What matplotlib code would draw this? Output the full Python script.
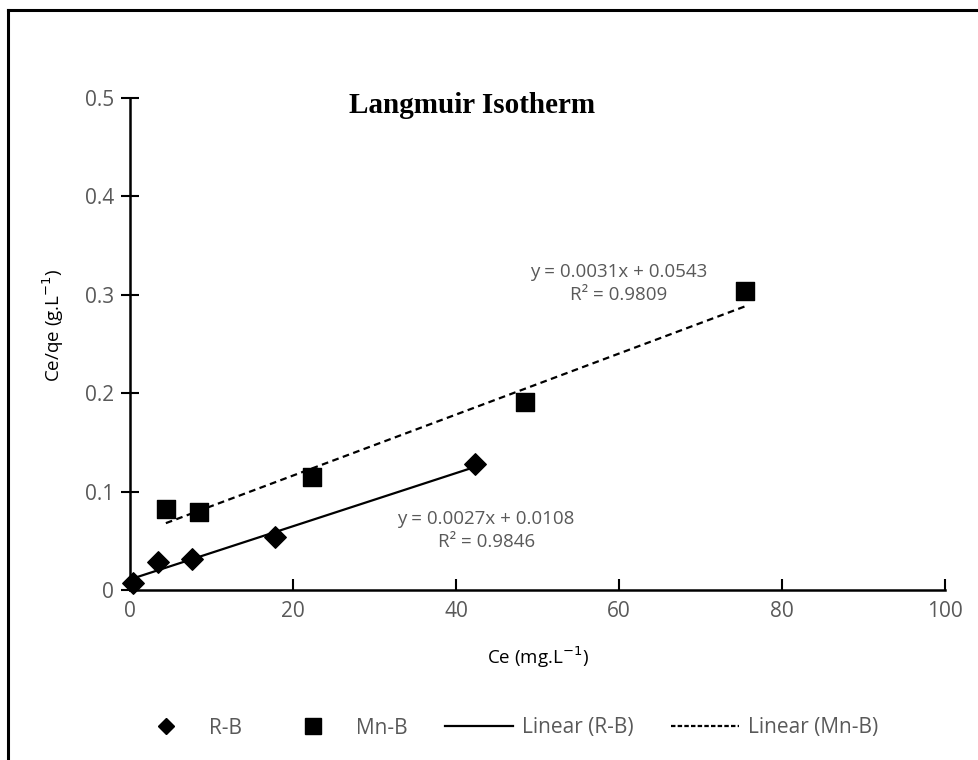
import numpy as np
import matplotlib
matplotlib.use("Agg")
import matplotlib.pyplot as plt
from matplotlib.lines import Line2D

# Langmuir isotherm data
rb_ce = [0.4, 3.4, 7.6, 17.8, 42.3]
rb_ratio = [0.007, 0.028, 0.032, 0.054, 0.128]
mnb_ce = [4.4, 8.5, 22.3, 48.5, 75.5]
mnb_ratio = [0.082, 0.079, 0.115, 0.191, 0.304]

# Linear fit parameters (slope, intercept, R²)
rb_fit = (0.0027, 0.0108, 0.9846)
mnb_fit = (0.0031, 0.0543, 0.9809)

x_ticks = [0, 20, 40, 60, 80, 100]
y_ticks = [0, 0.1, 0.2, 0.3, 0.4, 0.5]
y_tick_labels = ["0", "0.1", "0.2", "0.3", "0.4", "0.5"]

W, H = 979, 760
fig = plt.figure(figsize=(W / 100, H / 100), dpi=100)
fig.patch.set_facecolor("white")

# chart area frame (top and left edges)
fig.add_artist(Line2D([8 / W, 1], [1 - 10 / H, 1 - 10 / H], color="black", lw=2.2, transform=fig.transFigure))
fig.add_artist(Line2D([8 / W, 8 / W], [0, 1 - 10 / H], color="black", lw=2.2, transform=fig.transFigure))

left, right, top, bottom = 130, 945, 98, 590
ax = fig.add_axes([left / W, 1 - bottom / H, (right - left) / W, (bottom - top) / H])

gray = "#595959"
font = "Open Sans"

ax.set_xlim(0, 100)
ax.set_ylim(0, 0.5)
for s in ["top", "right"]:
    ax.spines[s].set_visible(False)
for s in ["left", "bottom"]:
    ax.spines[s].set_linewidth(1.8)
    ax.spines[s].set_color("black")

ax.set_xticks(x_ticks)
ax.set_xticklabels([str(t) for t in x_ticks], fontfamily=font, fontsize=15, color=gray)
ax.set_yticks(y_ticks)
ax.set_yticklabels(y_tick_labels, fontfamily=font, fontsize=15, color=gray)
ax.tick_params(axis="x", direction="in", length=8, width=1.5, pad=8)
ax.tick_params(axis="y", direction="inout", length=13, width=1.5, pad=5)

ax.set_xlabel("Ce (mg.L$^{-1}$)", fontfamily=font, fontsize=13.5, color="black")
ax.set_ylabel("Ce/qe (g.L$^{-1}$)", fontfamily=font, fontsize=13.5, color="black")
ax.xaxis.set_label_coords(0.501, -0.137)
ax.yaxis.set_label_coords(-0.094, 0.539)
ax.xaxis.label.set_va("center")
ax.yaxis.label.set_va("center")

# trend lines over each series' data range
xr = np.array([min(rb_ce), max(rb_ce)])
ax.plot(xr, rb_fit[0] * xr + rb_fit[1], color="black", lw=1.6, zorder=2)
xm = np.array([min(mnb_ce), max(mnb_ce)])
ax.plot(xm, mnb_fit[0] * xm + mnb_fit[1], color="black", lw=1.6, ls=(0, (3, 2)), zorder=2)

ax.scatter(rb_ce, rb_ratio, marker="D", s=120, color="black", zorder=3, clip_on=False)
ax.scatter(mnb_ce, mnb_ratio, marker="s", s=175, color="black", zorder=3, clip_on=False)

ax.text(43.7, 0.0605, f"y = {rb_fit[0]}x + {rb_fit[1]}\nR² = {rb_fit[2]}", ha="center", va="center",
        fontfamily=font, fontsize=13.5, color=gray, linespacing=1.4)
ax.text(59.9, 0.3115, f"y = {mnb_fit[0]}x + {mnb_fit[1]}\nR² = {mnb_fit[2]}", ha="center", va="center",
        fontfamily=font, fontsize=13.5, color=gray, linespacing=1.4)

ax.text(42.0, 0.4848, "Langmuir Isotherm", ha="center", va="baseline", fontfamily="Liberation Serif",
        fontweight="bold", fontsize=21, color="black")

handles = [
    Line2D([], [], marker="D", ls="none", color="black", markersize=8),
    Line2D([], [], marker="s", ls="none", color="black", markersize=11.5),
    Line2D([], [], color="black", lw=1.6),
    Line2D([], [], color="black", lw=1.6, ls=(0, (2, 1))),
]
labels = ["R-B", "Mn-B", "Linear (R-B)", "Linear (Mn-B)"]
leg = fig.legend(handles, labels, loc="center", bbox_to_anchor=(505 / W, 1 - 728 / H), ncol=4,
                 frameon=False, prop={"family": font, "size": 15}, handlelength=3.27,
                 columnspacing=1.78, handletextpad=0.43, borderpad=0, borderaxespad=0)
for t in leg.get_texts():
    t.set_color(gray)

fig.savefig("out.png", dpi=100, facecolor="white")
